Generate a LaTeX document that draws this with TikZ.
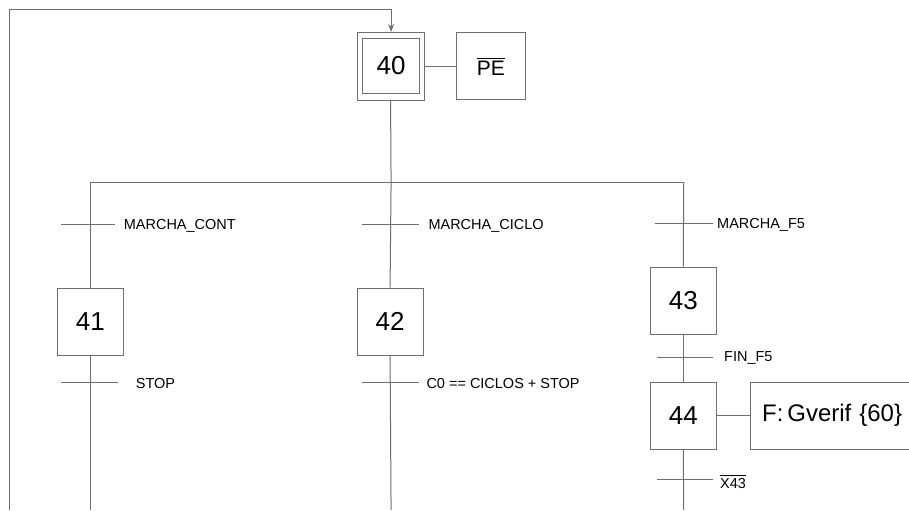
\documentclass[tikz,border=0pt]{standalone}
\usepackage{fontspec}
\setmainfont{Liberation Sans}
\usetikzlibrary{arrows.meta}
\definecolor{ln}{RGB}{110,110,110}
\newcommand{\ovlbar}[2]{\vbox{\hrule height #2\kern 2.2pt\hbox{#1}}}
\begin{document}
\begin{tikzpicture}[x=1pt,y=-1pt,
  every path/.style={draw=ln,line width=1pt},
  stepbox/.style={draw=ln,line width=1pt,minimum width=66pt,minimum height=67pt,inner sep=0pt,font=\fontsize{26}{28}\selectfont},
  actbox/.style={draw=ln,line width=1pt,minimum height=67pt,inner sep=0pt,anchor=west},
  lbl/.style={anchor=west,inner sep=0pt,font=\fontsize{14.5}{16}\selectfont}]
\useasboundingbox (0,0) rectangle (909,510);
\fill[white] (0,0) rectangle (909,510);
% step 40 (initial)
\node[stepbox,minimum width=67pt,minimum height=68pt] (s40) at (390.5,66) {};
\node[draw=ln,line width=1pt,minimum width=57pt,minimum height=55pt,inner sep=0pt,font=\fontsize{26}{28}\selectfont] (s40i) at (391,65.5) {40};
\node[actbox,minimum width=69pt,font=\fontsize{21}{24}\selectfont] (a40) at (456,66) {\ovlbar{PE}{1.2pt}};
\draw (s40.east) -- (a40.west);
% divergence
\coordinate (dv) at (391,182);
\coordinate (dl) at (90,182);
\coordinate (dr) at (684,182);
\draw (s40.south) -- (dv);
\draw (dl) -- (dr);
% branch 1
\node[stepbox] (s41) at (90,321.5) {41};
\draw (dl) -- (s41.north);
\draw (61,224) -- (115,224);
\node[lbl] (l1) at (123,226) {MARCHA\_CONT};
\coordinate (e41) at (90,510);
\draw (s41.south) -- (e41);
\draw (61,382) -- (118,382);
\node[lbl] (l41) at (135,383) {STOP};
% branch 2
\node[stepbox] (s42) at (390,321.5) {42};
\draw (dv) -- (s42.north);
\draw (362,224) -- (419,224);
\node[lbl] (l2) at (428,226) {MARCHA\_CICLO};
\coordinate (e42) at (391,510);
\draw (s42.south) -- (e42);
\draw (362,382) -- (419,382);
\node[lbl] (l42) at (426,383) {C0 == CICLOS + STOP};
% branch 3
\node[stepbox] (s43) at (683.5,300.5) {43};
\draw (dr) -- (s43.north);
\draw (655,223) -- (713,223);
\node[lbl] (l3) at (717,225) {MARCHA\_F5};
\node[stepbox] (s44) at (683.5,415.5) {44};
\draw (s43.south) -- (s44.north);
\draw (657,357) -- (713,357);
\node[lbl] (l43) at (724,358) {FIN\_F5};
\node[actbox,text width=170pt,inner xsep=12pt,align=left,font=\fontsize{24}{26}\selectfont] (a44) at (750,415.5) {F:\,Gverif \{60\}};
\draw (s44.east) -- (a44.west);
\coordinate (e44) at (684,510);
\draw (s44.south) -- (e44);
\draw (657,480) -- (713,480);
\node[lbl] (l44) at (720,482) {\ovlbar{X43}{0.9pt}};
% loop back
\coordinate (lb) at (9,510);
\coordinate (lt) at (9,9);
\coordinate (rt) at (391,9);
\draw[-{Stealth[length=8pt,width=6pt]}] (lb) -- (lt) -- (rt) -- (s40.north -| rt);
\end{tikzpicture}
\end{document}
